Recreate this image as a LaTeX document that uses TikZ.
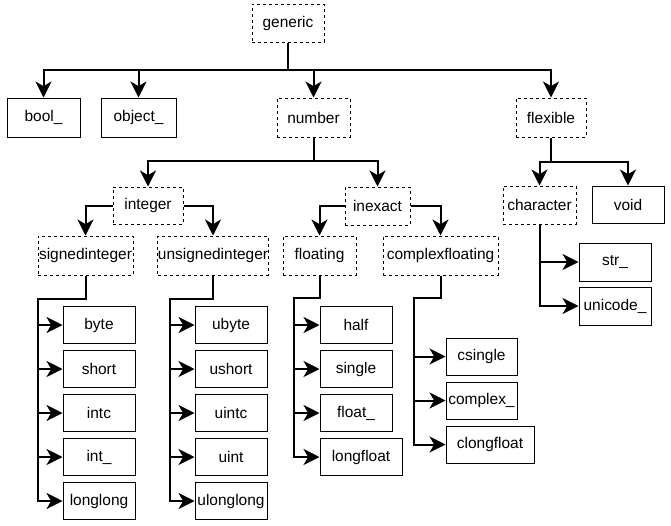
\documentclass[tikz,border=0pt]{standalone}
\usepackage{fontspec}
\setmainfont{Liberation Sans}
\usetikzlibrary{arrows.meta}
\begin{document}
\begin{tikzpicture}[x=0.75pt,y=-0.75pt,
 box/.style={draw, line width=0.75pt, inner sep=0pt, font=\fontsize{11.6pt}{13pt}\selectfont},
 sbox/.style={box},
 dbox/.style={box, dash pattern=on 2.25pt off 2.25pt},
 wh/.style 2 args={minimum width=#1*0.75pt, minimum height=#2*0.75pt},
 conn/.style={line width=1.5pt, -{Stealth[length=12pt,width=12pt,inset=3.5pt]}},
]
\useasboundingbox (0,0) rectangle (671,525);
% level 0-1
\node[dbox, wh={72}{38}] (generic) at (288,23) {generic};
\node[sbox, wh={73}{39}] (bool) at (43.5,117.5) {bool\_};
\node[sbox, wh={75}{39}] (object) at (138.5,117.5) {object\_};
\node[dbox, wh={73}{39}] (number) at (313.5,117.5) {number};
\node[dbox, wh={70}{39}] (flexible) at (551,117.5) {flexible};
% level 2
\node[dbox, wh={70}{37}] (integer) at (148,205.5) {integer};
\node[dbox, wh={65}{38}] (inexact) at (377.5,206) {inexact};
\node[dbox, wh={73}{38}] (character) at (539.5,205) {character};
\node[sbox, wh={72}{37}] (void) at (628,204.5) {void};
% level 3
\node[dbox, wh={95}{39}] (signed) at (85.5,255.5) {signedinteger};
\node[dbox, wh={110}{39}] (unsigned) at (213,255.5) {unsignedinteger};
\node[dbox, wh={73}{39}] (floating) at (319.5,255.5) {floating};
\node[dbox, wh={115}{39}] (complexfl) at (440.5,255.5) {complexfloating};
\node[sbox, wh={72}{38}] (str) at (615,262) {str\_};
\node[sbox, wh={72}{38}] (unicode) at (615,306) {unicode\_};
% signed children
\node[sbox, wh={72}{37}] (byte) at (99,325) {byte};
\node[sbox, wh={72}{37}] (short) at (99,369) {short};
\node[sbox, wh={72}{37}] (intc) at (99,413) {intc};
\node[sbox, wh={72}{37}] (int) at (99,457) {int\_};
\node[sbox, wh={72}{37}] (longlong) at (99,501) {longlong};
% unsigned children
\node[sbox, wh={72}{37}] (ubyte) at (231,325) {ubyte};
\node[sbox, wh={72}{37}] (ushort) at (231,369) {ushort};
\node[sbox, wh={72}{37}] (uintc) at (231,413) {uintc};
\node[sbox, wh={72}{37}] (uint) at (231,457) {uint};
\node[sbox, wh={72}{37}] (ulonglong) at (231,501) {ulonglong};
% floating children
\node[sbox, wh={72}{37}] (half) at (356,325) {half};
\node[sbox, wh={72}{37}] (single) at (356,369) {single};
\node[sbox, wh={72}{37}] (float) at (356,413) {float\_};
\node[sbox, wh={82}{37}] (longfloat) at (361,457) {longfloat};
% complex children
\node[sbox, wh={71}{37}] (csingle) at (481.5,356.5) {csingle};
\node[sbox, wh={71}{37}] (complex) at (481.5,400.5) {complex\_};
\node[sbox, wh={88}{37}] (clongfloat) at (490,444.5) {clongfloat};
% junctions
\coordinate (sj) at (38,299);
\coordinate (uj) at (170,299);
\coordinate (fj) at (294,298);
\coordinate (cj) at (414,298);
% connectors
\draw[line width=1.5pt] (generic.south) -- ++(0,27) coordinate (b1);
\draw[conn] (b1) -| (bool.north);
\draw[conn] (b1) -| (object.north);
\draw[conn] (b1) -| (number.north);
\draw[conn] (b1) -| (flexible.north);
\draw[line width=1.5pt] (number.south) -- ++(0,23) coordinate (b2);
\draw[conn] (b2) -| (integer.north);
\draw[conn] (b2) -| (inexact.north);
\draw[line width=1.5pt] (flexible.south) -- ++(0,24) coordinate (b3);
\draw[conn] (b3) -| (character.north);
\draw[conn] (b3) -| (void.north);
\draw[conn] (integer.west) -| (signed.north);
\draw[conn] (integer.east) -| (unsigned.north);
\draw[conn] (inexact.west) -| (floating.north);
\draw[conn] (inexact.east) -| (complexfl.north);
\draw[conn] (character.south) |- (str.west);
\draw[conn] (character.south) |- (unicode.west);
\draw[conn] (signed.south) |- (sj) |- (byte.west);
\draw[conn] (sj) |- (short.west);
\draw[conn] (sj) |- (intc.west);
\draw[conn] (sj) |- (int.west);
\draw[conn] (sj) |- (longlong.west);
\draw[conn] (unsigned.south) |- (uj) |- (ubyte.west);
\draw[conn] (uj) |- (ushort.west);
\draw[conn] (uj) |- (uintc.west);
\draw[conn] (uj) |- (uint.west);
\draw[conn] (uj) |- (ulonglong.west);
\draw[conn] (floating.south) |- (fj) |- (half.west);
\draw[conn] (fj) |- (single.west);
\draw[conn] (fj) |- (float.west);
\draw[conn] (fj) |- (longfloat.west);
\draw[conn] (complexfl.south) |- (cj) |- (csingle.west);
\draw[conn] (cj) |- (complex.west);
\draw[conn] (cj) |- (clongfloat.west);
\end{tikzpicture}
\end{document}
